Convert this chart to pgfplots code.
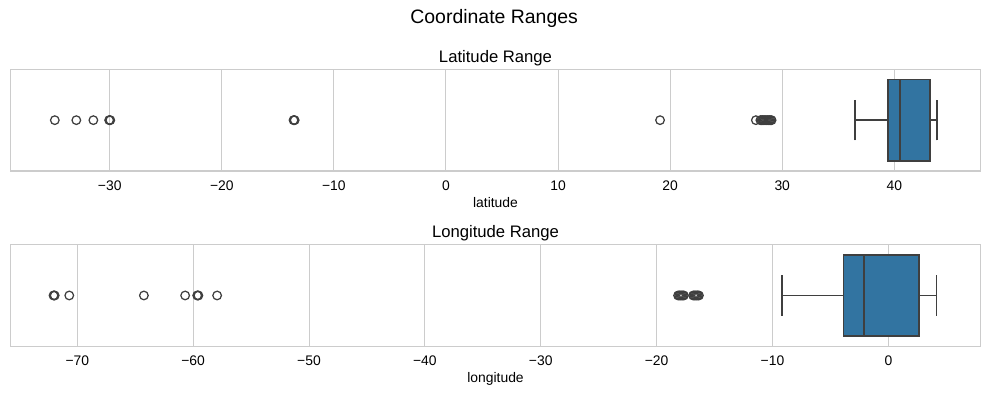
\documentclass[border=0pt]{standalone}
\usepackage{pgfplots}
\pgfplotsset{compat=1.18}
\usepgfplotslibrary{statistics}
\usepackage{fontspec}
\setmainfont{Liberation Sans}
\definecolor{boxblue}{HTML}{3274A1}
\definecolor{edgegray}{HTML}{3F3F3F}
\definecolor{gridgray}{HTML}{CCCCCC}

\pgfplotsset{cr/.style={
  scale only axis, width=698.7pt, height=73.2pt,
  ymin=-0.5, ymax=0.5, ytick=\empty,
  axis line style={draw=gridgray, line width=0.8pt},
  xmajorgrids, grid style={gridgray, line width=0.7pt},
  major tick length=0pt,
  tick label style={font=\fontsize{10}{12}\selectfont},
  xticklabel style={anchor=base, yshift=-13.7pt},
  xlabel style={at={(axis description cs:0.5,0)}, anchor=base, yshift=-26.4pt, font=\fontsize{10}{12}\selectfont},
  clip=false,
}}

\begin{document}
\begin{tikzpicture}
\path[use as bounding box] (0,0) rectangle (712.08pt,-285.12pt);
\node[anchor=base, font=\fontsize{14}{16}\selectfont] at (355.8pt,-17.28pt) {Coordinate Ranges};

\begin{axis}[cr, at={(7.42pt,-123.12pt)}, anchor=south west,
  xmin=-38.87, xmax=47.71,
  xtick={-30,-20,-10,0,10,20,30,40},
  xticklabels={−30,−20,−10,0,10,20,30,40},
  xlabel={latitude}]
\addplot[boxplot prepared={median=40.48, lower quartile=39.44, upper quartile=43.16,
  lower whisker=36.52, upper whisker=43.78, draw position=0, box extend=0.8, whisker extend=0.4},
  fill=boxblue, draw=edgegray, line width=1.2pt] coordinates {};
\addplot[only marks, mark=o, mark size=3.1pt, mark options={draw=edgegray, line width=0.9pt}]
  coordinates {(-34.9,0) (-32.98,0) (-31.46,0) (-30.05,0) (-30.0,0) (-29.95,0)
  (-13.6,0) (-13.55,0) (-13.5,0) (19.1,0)
  (27.65,0) (28.05,0) (28.15,0) (28.25,0) (28.35,0) (28.45,0) (28.55,0)
  (28.65,0) (28.75,0) (28.85,0) (28.95,0) (29.05,0)};
\node[anchor=base, yshift=5.1pt, font=\fontsize{12}{14}\selectfont] at (rel axis cs:0.5,1) {Latitude Range};
\end{axis}

\begin{axis}[cr, at={(7.42pt,-249.34pt)}, anchor=south west,
  xmin=-75.78, xmax=7.97,
  xtick={-70,-60,-50,-40,-30,-20,-10,0},
  xticklabels={−70,−60,−50,−40,−30,−20,−10,0},
  xlabel={longitude}]
\addplot[boxplot prepared={median=-2.12, lower quartile=-3.88, upper quartile=2.62,
  lower whisker=-9.2, upper whisker=4.14, draw position=0, box extend=0.8, whisker extend=0.4},
  fill=boxblue, draw=edgegray, line width=1.2pt] coordinates {};
\addplot[only marks, mark=o, mark size=3.1pt, mark options={draw=edgegray, line width=0.9pt}]
  coordinates {(-72.05,0) (-72.0,0) (-71.95,0) (-70.69,0) (-64.25,0) (-60.69,0)
  (-59.65,0) (-59.6,0) (-59.55,0) (-57.93,0)
  (-18.15,0) (-18.05,0) (-17.95,0) (-17.85,0) (-17.75,0) (-17.65,0)
  (-16.85,0) (-16.75,0) (-16.65,0) (-16.55,0) (-16.45,0) (-16.35,0)};
\node[anchor=base, yshift=5.3pt, font=\fontsize{12}{14}\selectfont] at (rel axis cs:0.5,1) {Longitude Range};
\end{axis}
\end{tikzpicture}
\end{document}
